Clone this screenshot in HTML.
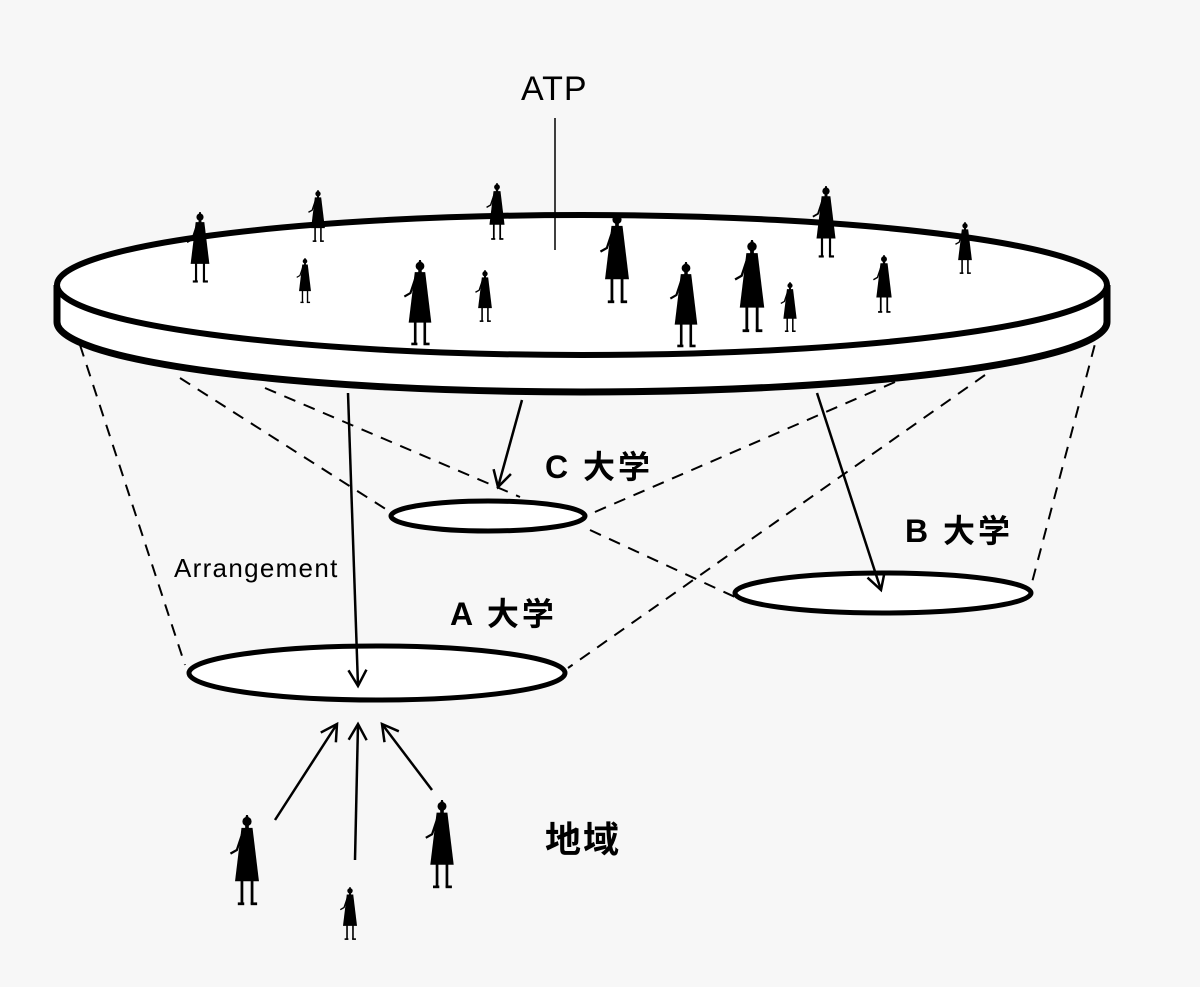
<!DOCTYPE html>
<html><head><meta charset="utf-8"><style>
html,body{margin:0;padding:0;background:#f7f7f7;}
svg{display:block;}
text{font-family:"Liberation Sans","Noto Sans CJK JP",sans-serif;fill:#000;}
</style></head><body>
<svg width="1200" height="987" viewBox="0 0 1200 987">
<defs>
<g id="fig">
<circle cx="0" cy="7" r="5"/>
<polygon points="-1,0 1,0 2,4 -2,4"/>
<rect x="-2" y="10" width="4" height="5"/>
<polygon points="-6,14 6,14 13,72 -13,72"/>
<rect x="-7" y="70" width="3" height="27"/>
<rect x="4" y="70" width="3" height="27"/>
<rect x="-10" y="95" width="7" height="3"/>
<rect x="4" y="95" width="7" height="3"/>
<polyline points="-5,20 -11,38 -18,42" fill="none" stroke="#000" stroke-width="2.5"/>
</g>
<marker id="ah" markerWidth="24" markerHeight="24" refX="20" refY="12" orient="auto" markerUnits="userSpaceOnUse">
<polyline points="4,3 20,12 4,21" fill="none" stroke="#000" stroke-width="2.5"/>
</marker>
</defs>
<rect width="1200" height="987" fill="#f7f7f7"/>
<g stroke="#000" stroke-width="2" stroke-dasharray="12,9" fill="none">
<line x1="80" y1="345" x2="185" y2="665"/>
<line x1="1100" y1="325" x2="1030" y2="590"/>
<line x1="180" y1="378" x2="395" y2="515"/>
<line x1="265" y1="388" x2="520" y2="497"/>
<line x1="895" y1="382" x2="588" y2="515"/>
<line x1="985" y1="375" x2="568" y2="668"/>
<line x1="590" y1="530" x2="735" y2="597"/>
</g>
<path d="M57,285 L57,322 A525,70 0 0 0 1107,322 L1107,285" fill="#fff" stroke="#000" stroke-width="7"/>
<ellipse cx="582" cy="285" rx="525" ry="70" fill="#fff" stroke="#000" stroke-width="6"/>
<line x1="555" y1="118" x2="555" y2="250" stroke="#000" stroke-width="1.5"/>
<g fill="#000">
<use href="#fig" transform="translate(200,212) scale(0.72)"/>
<use href="#fig" transform="translate(318,190) scale(0.53)"/>
<use href="#fig" transform="translate(305,258) scale(0.46)"/>
<use href="#fig" transform="translate(420,260) scale(0.87)"/>
<use href="#fig" transform="translate(497,183) scale(0.58)"/>
<use href="#fig" transform="translate(485,270) scale(0.53)"/>
<use href="#fig" transform="translate(617,213) scale(0.92)"/>
<use href="#fig" transform="translate(686,262) scale(0.87)"/>
<use href="#fig" transform="translate(752,240) scale(0.94)"/>
<use href="#fig" transform="translate(790,282) scale(0.51)"/>
<use href="#fig" transform="translate(826,186) scale(0.73)"/>
<use href="#fig" transform="translate(884,255) scale(0.59)"/>
<use href="#fig" transform="translate(965,222) scale(0.53)"/>
<use href="#fig" transform="translate(247,815) scale(0.92)"/>
<use href="#fig" transform="translate(350,887) scale(0.54)"/>
<use href="#fig" transform="translate(442,800) scale(0.9)"/>
</g>
<ellipse cx="488" cy="516" rx="97" ry="15" fill="#fff" stroke="#000" stroke-width="5"/>
<ellipse cx="883" cy="593" rx="148" ry="20" fill="#fff" stroke="#000" stroke-width="5"/>
<ellipse cx="377" cy="673" rx="188" ry="27" fill="#fff" stroke="#000" stroke-width="5"/>
<g stroke="#000" stroke-width="2.5" fill="none" marker-end="url(#ah)">
<line x1="348" y1="393" x2="358" y2="686"/>
<line x1="522" y1="400" x2="498" y2="487"/>
<line x1="817" y1="393" x2="881" y2="590"/>
<line x1="275" y1="820" x2="337" y2="724"/>
<line x1="355" y1="860" x2="358" y2="724"/>
<line x1="432" y1="790" x2="382" y2="724"/>
</g>
<text x="521" y="100" font-size="34" letter-spacing="1">ATP</text>
<text x="545" y="478" font-size="32" font-weight="bold" letter-spacing="3">C 大学</text>
<text x="905" y="542" font-size="32" font-weight="bold" letter-spacing="3">B 大学</text>
<text x="450" y="625" font-size="32" font-weight="bold" letter-spacing="3">A 大学</text>
<text x="174" y="577" font-size="26" letter-spacing="1.3">Arrangement</text>
<text x="545" y="852" font-size="36" font-weight="bold" letter-spacing="2">地域</text>
</svg>
</body></html>
